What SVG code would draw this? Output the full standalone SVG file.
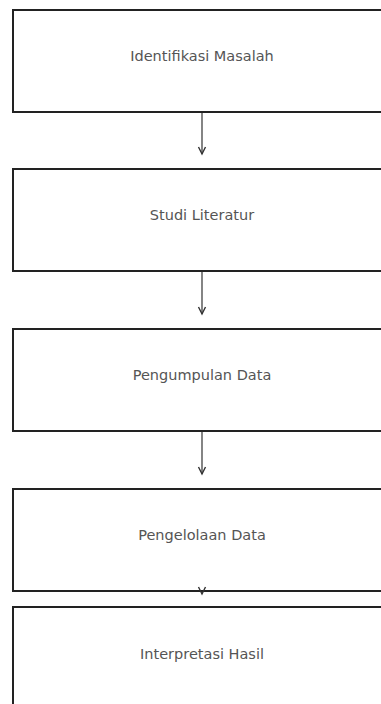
<svg xmlns="http://www.w3.org/2000/svg" width="381" height="704" viewBox="0 0 381 704">
<defs>
<style>
.box{fill:#fff;stroke:#222;stroke-width:2}
.lbl{font-family:"DejaVu Sans",sans-serif;font-size:14.5px;fill:#555;text-anchor:middle;dominant-baseline:central}
.edge{stroke:#333;stroke-width:1.2;fill:none}
.head{stroke:#333;stroke-width:1.4;fill:none}
</style>
</defs>
<rect width="381" height="704" fill="#fff"/>
<g id="n1"><rect class="box" x="13" y="10" width="378" height="102"/><text class="lbl" x="202" y="56">Identifikasi Masalah</text></g>
<g id="n2"><rect class="box" x="13" y="169" width="378" height="102"/><text class="lbl" x="202" y="215">Studi Literatur</text></g>
<g id="n3"><rect class="box" x="13" y="329" width="378" height="102"/><text class="lbl" x="202" y="375">Pengumpulan Data</text></g>
<g id="n4"><rect class="box" x="13" y="489" width="378" height="102"/><text class="lbl" x="202" y="535">Pengelolaan Data</text></g>
<g id="n5"><rect class="box" x="13" y="607" width="378" height="102"/><text class="lbl" x="202" y="654">Interpretasi Hasil</text></g>
<g id="connectors">
<line class="edge" x1="202" y1="113" x2="202" y2="154"/><path class="head" d="M198.5,147 L202,154 L205.5,147"/>
<line class="edge" x1="202" y1="272" x2="202" y2="314"/><path class="head" d="M198.5,307 L202,314 L205.5,307"/>
<line class="edge" x1="202" y1="432" x2="202" y2="474"/><path class="head" d="M198.5,467 L202,474 L205.5,467"/>
<path class="head" d="M198.5,587 L202,594 L205.5,587"/>
</g>
</svg>
